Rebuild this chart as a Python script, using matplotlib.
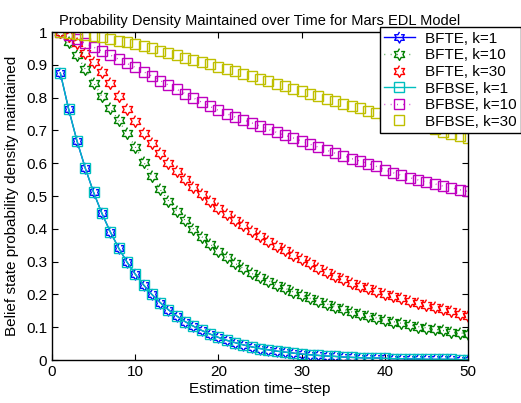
import matplotlib
matplotlib.use("Agg")
import matplotlib.pyplot as plt
import numpy as np

t = list(range(1, 51))

bfte_k1 = [0.875, 0.765, 0.668, 0.585, 0.511, 0.447, 0.391, 0.342, 0.299, 0.262,
           0.229, 0.200, 0.175, 0.153, 0.134, 0.117, 0.103, 0.090, 0.079, 0.069,
           0.060, 0.053, 0.046, 0.040, 0.035, 0.031, 0.027, 0.024, 0.021, 0.018,
           0.016, 0.014, 0.012, 0.011, 0.009, 0.008, 0.007, 0.006, 0.006, 0.005,
           0.004, 0.004, 0.003, 0.003, 0.002, 0.002, 0.002, 0.002, 0.001, 0.001]
bfte_k10 = [1.000, 0.968, 0.930, 0.886, 0.845, 0.804, 0.767, 0.731, 0.692, 0.650,
            0.604, 0.560, 0.520, 0.486, 0.455, 0.426, 0.400, 0.376, 0.354, 0.333,
            0.313, 0.295, 0.279, 0.264, 0.253, 0.242, 0.230, 0.219, 0.208, 0.198,
            0.188, 0.179, 0.171, 0.163, 0.155, 0.147, 0.141, 0.134, 0.128, 0.122,
            0.117, 0.112, 0.107, 0.102, 0.098, 0.094, 0.090, 0.086, 0.083, 0.080]
bfte_k30 = [1.000, 0.988, 0.966, 0.937, 0.908, 0.878, 0.845, 0.806, 0.766, 0.728,
            0.693, 0.661, 0.630, 0.602, 0.575, 0.551, 0.528, 0.506, 0.484, 0.463,
            0.445, 0.427, 0.411, 0.393, 0.377, 0.362, 0.348, 0.334, 0.320, 0.307,
            0.295, 0.281, 0.269, 0.257, 0.246, 0.236, 0.227, 0.218, 0.210, 0.202,
            0.195, 0.188, 0.181, 0.175, 0.168, 0.161, 0.155, 0.148, 0.141, 0.134]
bfbse_k1 = [0.875, 0.765, 0.668, 0.585, 0.511, 0.447, 0.391, 0.342, 0.299, 0.262,
            0.229, 0.200, 0.175, 0.153, 0.134, 0.117, 0.103, 0.090, 0.079, 0.069,
            0.060, 0.053, 0.046, 0.040, 0.035, 0.031, 0.027, 0.024, 0.021, 0.018,
            0.016, 0.014, 0.012, 0.011, 0.009, 0.008, 0.007, 0.006, 0.006, 0.005,
            0.004, 0.004, 0.003, 0.003, 0.002, 0.002, 0.002, 0.002, 0.001, 0.001]
bfbse_k10 = [1.000, 0.990, 0.978, 0.966, 0.954, 0.942, 0.930, 0.917, 0.904, 0.892,
             0.879, 0.866, 0.852, 0.838, 0.825, 0.812, 0.799, 0.786, 0.773, 0.761,
             0.751, 0.741, 0.732, 0.723, 0.713, 0.703, 0.694, 0.685, 0.677, 0.668,
             0.658, 0.649, 0.640, 0.631, 0.623, 0.614, 0.607, 0.599, 0.590, 0.580,
             0.571, 0.563, 0.556, 0.549, 0.543, 0.537, 0.530, 0.525, 0.519, 0.514]
bfbse_k30 = [1.000, 0.997, 0.995, 0.992, 0.989, 0.985, 0.980, 0.974, 0.968, 0.962,
             0.956, 0.950, 0.943, 0.936, 0.929, 0.922, 0.915, 0.908, 0.901, 0.894,
             0.887, 0.880, 0.873, 0.866, 0.858, 0.850, 0.842, 0.834, 0.827, 0.820,
             0.812, 0.805, 0.797, 0.789, 0.782, 0.774, 0.767, 0.760, 0.752, 0.745,
             0.738, 0.731, 0.724, 0.717, 0.710, 0.703, 0.696, 0.689, 0.683, 0.676]

labels = ["BFTE, k=1", "BFTE, k=10", "BFTE, k=30",
          "BFBSE, k=1", "BFBSE, k=10", "BFBSE, k=30"]
xticks = [0, 10, 20, 30, 40, 50]
yticks = [0, 0.1, 0.2, 0.3, 0.4, 0.5, 0.6, 0.7, 0.8, 0.9, 1]
ytick_labels = ["0", "0.1", "0.2", "0.3", "0.4", "0.5", "0.6", "0.7", "0.8", "0.9", "1"]

plt.rcParams['font.family'] = ['Liberation Sans', 'DejaVu Sans']

# hexagram marker
ang = np.deg2rad(90 + 30 * np.arange(12))
rad = np.where(np.arange(12) % 2 == 0, 1.0, 1 / np.sqrt(3))
hexagram = list(zip(rad * np.cos(ang), rad * np.sin(ang)))

fig = plt.figure(figsize=(5.21, 4.03), dpi=100)
ax = fig.add_axes([52 / 521, 43 / 403, 416 / 521, 328 / 403])

series = [
    (bfte_k1, '-', hexagram, (0, 0, 1), 8, 1.0),
    (bfte_k10, (0, (0.5, 4)), hexagram, (0, 0.5, 0), 8.5, 1.0),
    (bfte_k30, 'none', hexagram, (1, 0, 0), 8.5, 1.0),
    (bfbse_k1, '-', 's', (0, 0.75, 0.75), 6.5, 1.0),
    (bfbse_k10, (0, (0.5, 4)), 's', (0.75, 0, 0.75), 7, 1.0),
    (bfbse_k30, 'none', 's', (0.75, 0.75, 0), 7, 1.0),
]
for (vals, ls, mk, col, ms, lw), lab in zip(series, labels):
    ax.plot(t, vals, linestyle=ls, marker=mk, color=col, markerfacecolor='none',
            markeredgecolor=col, markersize=ms, markeredgewidth=1.0,
            linewidth=lw, label=lab)

ax.set_xlim(0, 50)
ax.set_ylim(0, 1)
ax.set_xticks(xticks)
ax.set_yticks(yticks)
ax.set_yticklabels(ytick_labels)
ax.tick_params(direction='in', top=True, right=True, length=4, labelsize=11, width=0.8)
for s in ax.spines.values():
    s.set_linewidth(1.0)
ax.set_xlabel("Estimation time\u2212step", fontsize=11, labelpad=2)
ax.set_ylabel("Belief state probability density maintained", fontsize=11, labelpad=5)
ax.set_title("Probability Density Maintained over Time for Mars EDL Model", fontsize=10.5, pad=5)

leg = ax.legend(loc='upper right', bbox_to_anchor=(520.5 / 521, 1 - 27.5 / 403),
                bbox_transform=fig.transFigure, fontsize=11, frameon=True,
                fancybox=False, edgecolor='black', framealpha=1,
                handlelength=2.0, labelspacing=0.17, borderpad=0.28,
                handletextpad=0.65, borderaxespad=0)
leg.get_frame().set_linewidth(1.0)

fig.savefig("out.png", dpi=100)
